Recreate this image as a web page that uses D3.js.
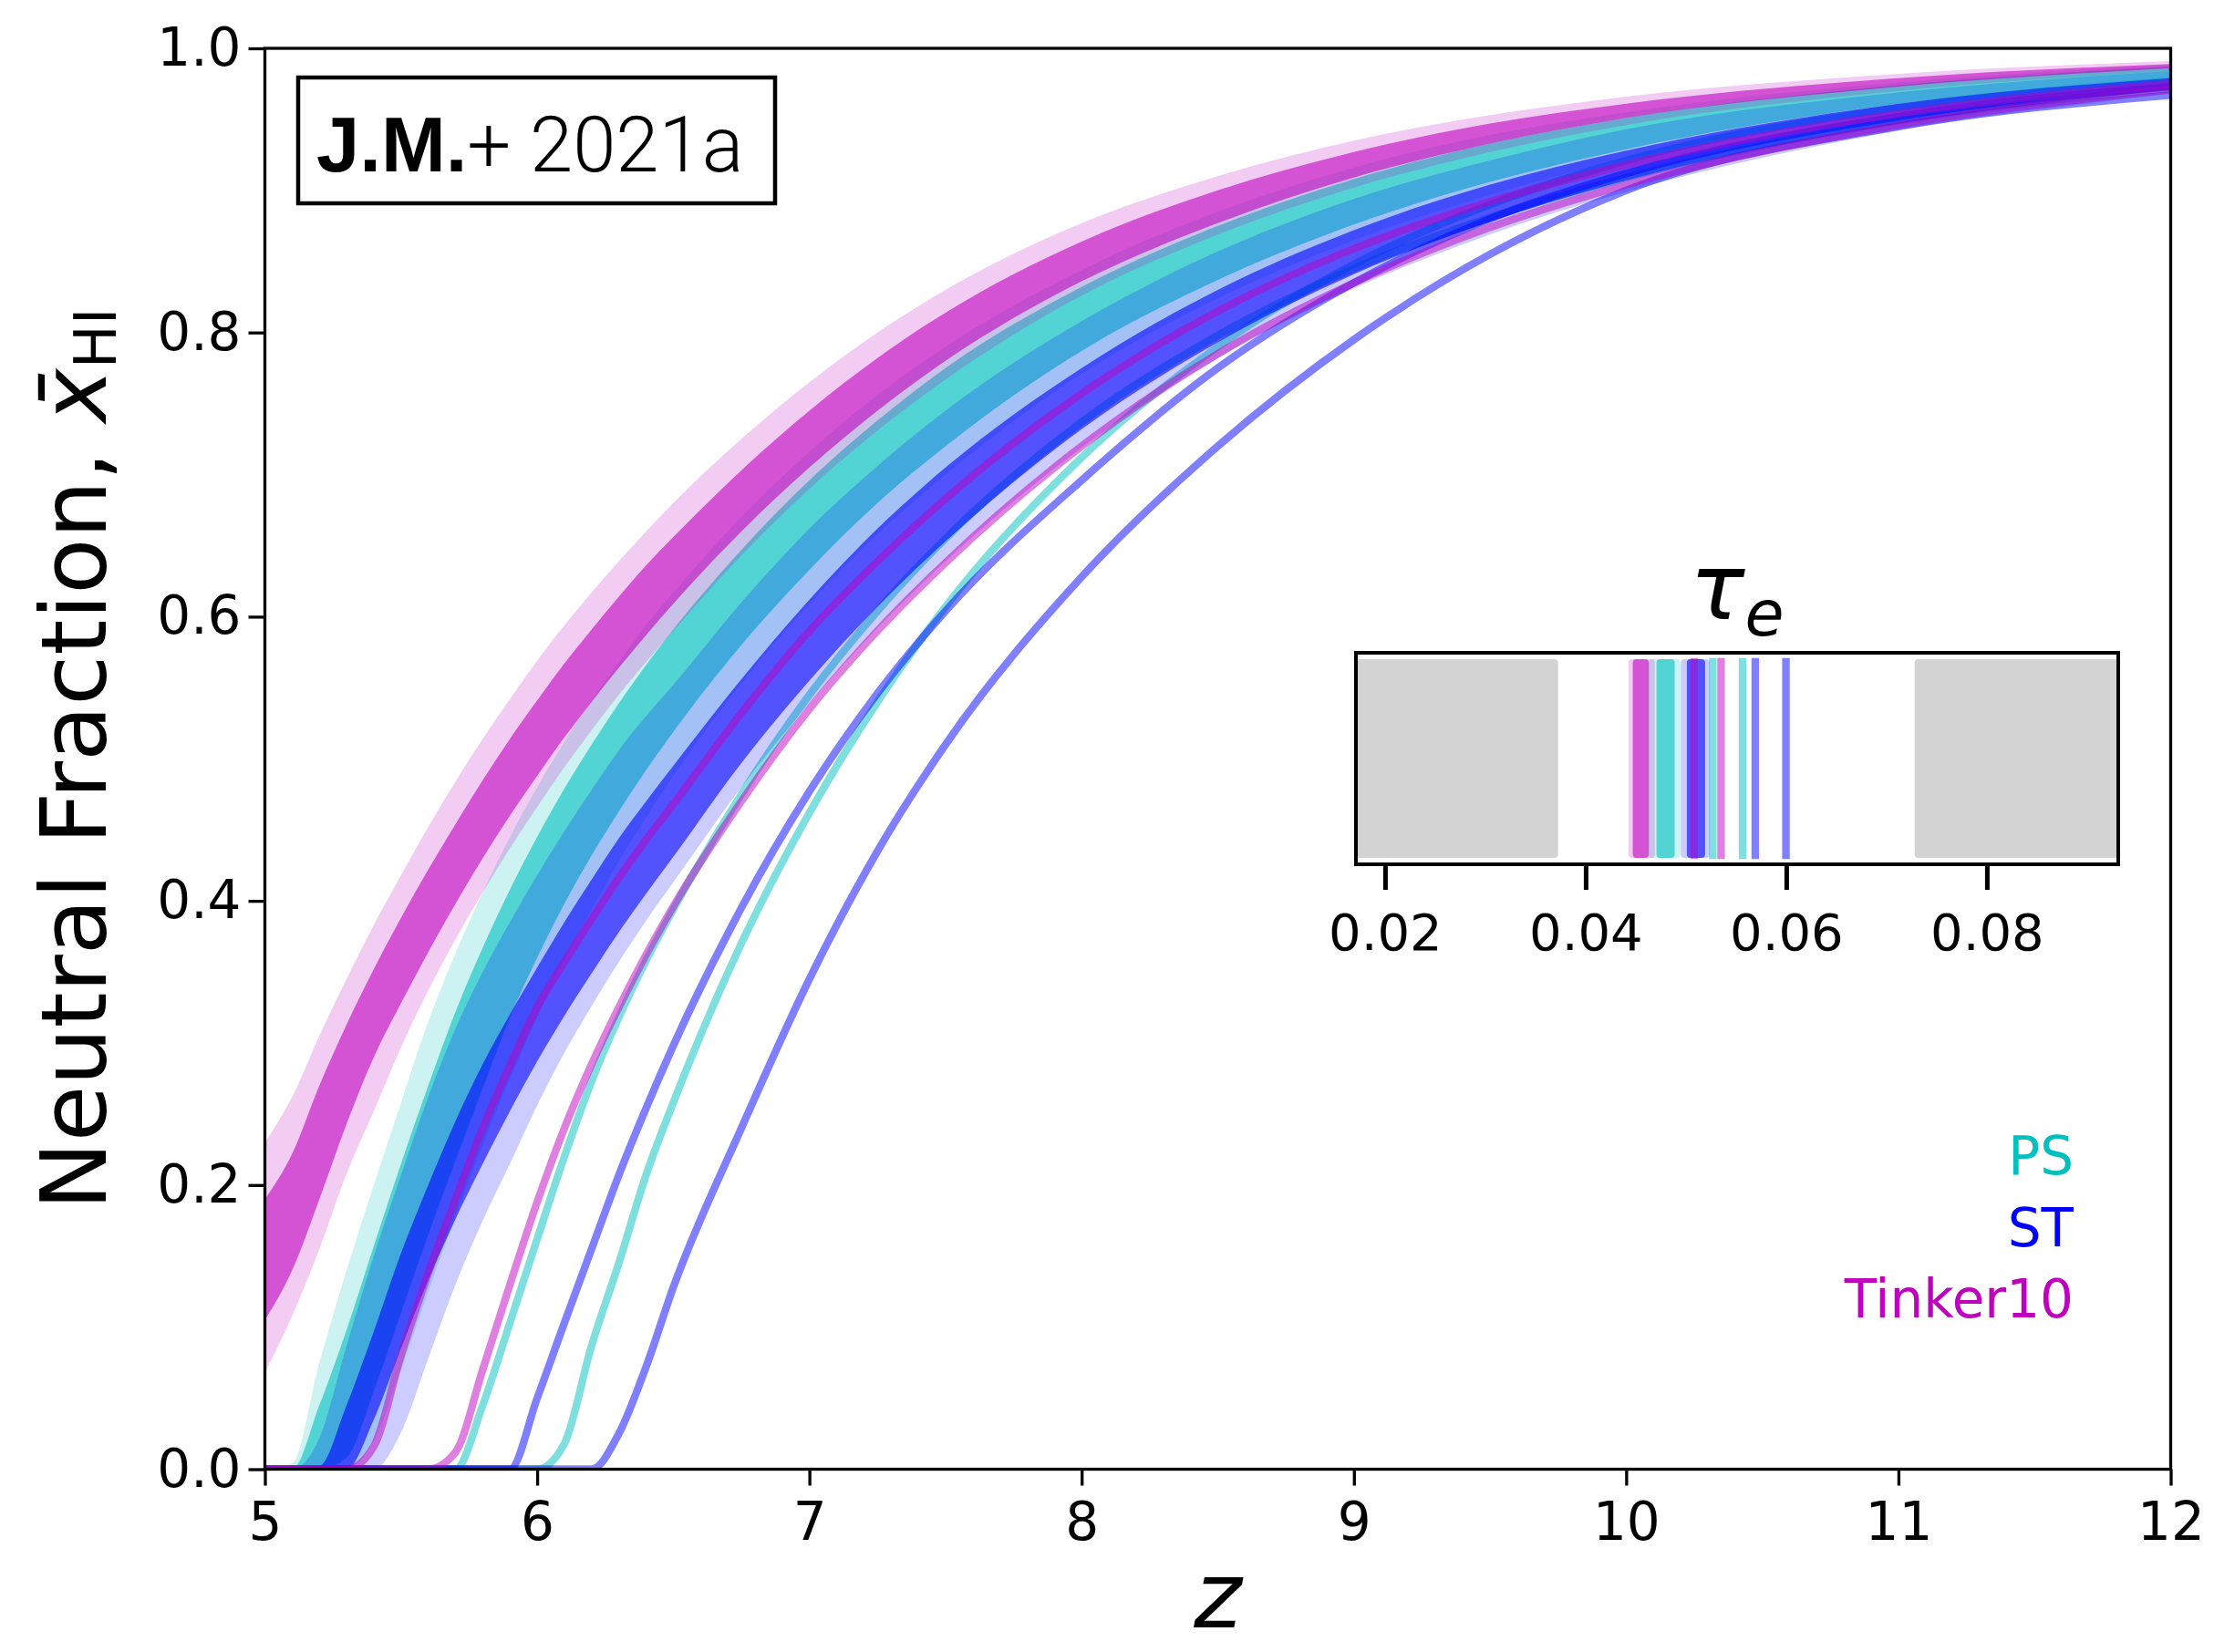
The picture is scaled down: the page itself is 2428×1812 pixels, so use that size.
<!DOCTYPE html>
<html>
<head>
<meta charset="utf-8">
<script src="https://cdnjs.cloudflare.com/ajax/libs/d3/7.8.5/d3.min.js"></script>
<style>
  body { margin: 0; background: #fff; }
  text { font-family: "DejaVu Sans", sans-serif; }
</style>
</head>
<body>
<div id="chart"></div>
<script>
// redshift grid shared by every curve
var zGrid = [5.0,5.1,5.2,5.3,5.4,5.5,5.6,5.7,5.8,5.9,6.0,6.1,6.2,6.3,6.4,6.5,6.75,7.0,7.25,7.5,8.0,8.5,9.0,9.5,10,11,12];

// PS (Press-Schechter) bands and models
var psOuterLo = [0,0,0,0,0.02,0.07,0.125,0.178,0.228,0.275,0.318,0.358,0.394,0.428,0.459,0.488,0.553,0.609,0.658,0.7,0.771,0.824,0.865,0.897,0.922,0.956,0.976];
var psOuterHi = [0,0.004,0.075,0.14,0.2,0.258,0.315,0.363,0.406,0.445,0.48,0.512,0.541,0.568,0.594,0.617,0.67,0.716,0.756,0.79,0.844,0.885,0.916,0.939,0.955,0.976,0.988];
var psInnerLo = [0,0,0,0.008,0.055,0.11,0.165,0.217,0.268,0.318,0.36,0.398,0.432,0.463,0.492,0.519,0.58,0.633,0.68,0.72,0.787,0.837,0.876,0.906,0.929,0.961,0.979];
var psInnerHi = [0,0,0.045,0.098,0.157,0.215,0.27,0.322,0.367,0.408,0.445,0.479,0.51,0.539,0.566,0.591,0.647,0.696,0.738,0.775,0.832,0.875,0.908,0.933,0.951,0.974,0.987];
var psLineA = [0,0,0,0,0,0,0,0,0.045,0.103,0.162,0.22,0.273,0.318,0.358,0.394,0.475,0.545,0.604,0.655,0.737,0.798,0.845,0.881,0.909,0.949,0.972];
var psLineB = [0,0,0,0,0,0,0,0,0,0,0,0.018,0.087,0.145,0.207,0.258,0.37,0.462,0.54,0.607,0.712,0.79,0.848,0.89,0.921,0.958,0.977];

// ST (Sheth-Tormen)
var stOuterLo = [0,0,0,0,0,0.026,0.078,0.13,0.175,0.215,0.256,0.293,0.326,0.357,0.386,0.413,0.48,0.539,0.592,0.639,0.719,0.782,0.831,0.869,0.899,0.942,0.968];
var stOuterHi = [0,0,0.022,0.087,0.15,0.207,0.262,0.31,0.35,0.385,0.418,0.449,0.478,0.506,0.53,0.552,0.61,0.662,0.706,0.745,0.808,0.857,0.894,0.921,0.943,0.969,0.984];
var stInnerLo = [0,0,0,0,0.035,0.085,0.133,0.176,0.215,0.252,0.287,0.319,0.349,0.378,0.405,0.431,0.497,0.555,0.607,0.653,0.732,0.793,0.841,0.878,0.907,0.947,0.971];
var stInnerHi = [0,0,0.002,0.045,0.097,0.152,0.2,0.245,0.285,0.32,0.353,0.385,0.415,0.444,0.47,0.495,0.556,0.612,0.662,0.705,0.775,0.83,0.872,0.904,0.928,0.961,0.979];
var stLineA = [0,0,0,0,0,0,0,0,0,0,0.05,0.103,0.155,0.207,0.254,0.298,0.395,0.477,0.546,0.604,0.696,0.775,0.835,0.88,0.912,0.952,0.973];
var stLineB = [0,0,0,0,0,0,0,0,0,0,0,0,0,0.025,0.072,0.128,0.24,0.345,0.435,0.51,0.628,0.72,0.795,0.855,0.9,0.945,0.967];

// Tinker10
var tkOuterLo = [0.068,0.108,0.155,0.208,0.252,0.297,0.337,0.373,0.406,0.437,0.466,0.494,0.52,0.545,0.568,0.59,0.643,0.69,0.731,0.767,0.826,0.869,0.902,0.927,0.946,0.97,0.984];
var tkOuterHi = [0.23,0.262,0.305,0.345,0.383,0.418,0.452,0.484,0.514,0.542,0.569,0.594,0.617,0.639,0.66,0.68,0.725,0.765,0.8,0.83,0.877,0.91,0.935,0.953,0.966,0.982,0.991];
var tkInnerLo = [0.105,0.14,0.19,0.243,0.29,0.328,0.364,0.398,0.43,0.46,0.488,0.515,0.54,0.564,0.587,0.609,0.66,0.705,0.745,0.78,0.836,0.877,0.909,0.933,0.951,0.973,0.986];
var tkInnerHi = [0.19,0.222,0.27,0.313,0.352,0.388,0.422,0.454,0.485,0.514,0.541,0.567,0.591,0.614,0.636,0.656,0.703,0.745,0.782,0.814,0.864,0.9,0.927,0.947,0.961,0.979,0.989];
var tkLineA = [0,0,0,0,0.016,0.08,0.138,0.19,0.24,0.284,0.325,0.357,0.387,0.416,0.443,0.468,0.532,0.59,0.639,0.683,0.757,0.815,0.859,0.892,0.918,0.954,0.975];
var tkLineB = [0,0,0,0,0,0,0,0.012,0.07,0.13,0.188,0.24,0.285,0.325,0.362,0.396,0.47,0.535,0.59,0.638,0.72,0.785,0.835,0.874,0.904,0.946,0.971];

// optical depth tau_e (inset): [lo, hi] of bands, single model values
var psTauOuter = [0.04627, 0.04945], psTauInner = [0.04706, 0.04888], psTauLines = [0.05268, 0.05564];
var stTauOuter = [0.04948, 0.05236], stTauInner = [0.05009, 0.05191], stTauLines = [0.05691, 0.05997];
var tkTauOuter = [0.04427, 0.0469],  tkTauInner = [0.0447, 0.0463],   tkTauLines = [0.05082, 0.0535];
var tauExcluded = [[0.0171, 0.03725], [0.0728, 0.0931]];
var tauTicks = [0.02, 0.04, 0.06, 0.08];

var modelNames = ["PS", "ST", "Tinker10"];
var modelColors = ["#00bfbf", "#0000ff", "#bf00bf"];

// set the dimensions and margins of the graph
var W = 2428, H = 1812;
var margin = {top: 53, right: 47.5, bottom: 200.5, left: 290.5},
    width = W - margin.left - margin.right,
    height = H - margin.top - margin.bottom;

var svg = d3.select("#chart")
    .append("svg")
    .attr("width", W)
    .attr("height", H)
    .style("background", "#fff");

svg.append("rect").attr("width", W).attr("height", H).attr("fill", "#fff");

var g = svg.append("g")
    .attr("transform", "translate(" + margin.left + "," + margin.top + ")");

var x = d3.scaleLinear().domain([5, 12]).range([0, width]);
var y = d3.scaleLinear().domain([0, 1]).range([height, 0]);

g.append("clipPath").attr("id", "plotclip")
  .append("rect").attr("width", width).attr("height", height);
var plot = g.append("g").attr("clip-path", "url(#plotclip)");

var area = d3.area()
    .x(function(d, i) { return x(zGrid[i]); })
    .y0(function(d) { return y(d[0]); })
    .y1(function(d) { return y(d[1]); })
    .curve(d3.curveMonotoneX);
var line = d3.line()
    .x(function(d, i) { return x(zGrid[i]); })
    .y(function(d) { return y(d); })
    .curve(d3.curveMonotoneX);

var groups = [
  {outer: [psOuterLo, psOuterHi], inner: [psInnerLo, psInnerHi], lines: [psLineA, psLineB],
   tOuter: psTauOuter, tInner: psTauInner, tLines: psTauLines},
  {outer: [stOuterLo, stOuterHi], inner: [stInnerLo, stInnerHi], lines: [stLineA, stLineB],
   tOuter: stTauOuter, tInner: stTauInner, tLines: stTauLines},
  {outer: [tkOuterLo, tkOuterHi], inner: [tkInnerLo, tkInnerHi], lines: [tkLineA, tkLineB],
   tOuter: tkTauOuter, tInner: tkTauInner, tLines: tkTauLines}
];

groups.forEach(function(gr, k) {
  var col = modelColors[k];
  plot.append("path").datum(d3.zip(gr.outer[0], gr.outer[1]))
      .attr("d", area).attr("fill", col).attr("fill-opacity", 0.2);
  plot.append("path").datum(d3.zip(gr.inner[0], gr.inner[1]))
      .attr("d", area).attr("fill", col).attr("fill-opacity", 0.6);
  gr.lines.forEach(function(l) {
    plot.append("path").datum(l).attr("d", line)
        .attr("fill", "none").attr("stroke", col)
        .attr("stroke-opacity", 0.5).attr("stroke-width", 8.3);
  });
});

// axes
var xAxis = g.append("g")
    .attr("transform", "translate(0," + height + ")")
    .call(d3.axisBottom(x).tickValues([5,6,7,8,9,10,11,12]).tickFormat(d3.format("d"))
          .tickSize(18).tickPadding(18).tickSizeOuter(0));
var yAxis = g.append("g")
    .call(d3.axisLeft(y).tickValues([0,0.2,0.4,0.6,0.8,1.0]).tickFormat(d3.format(".1f"))
          .tickSize(18).tickPadding(8).tickSizeOuter(0));
[xAxis, yAxis].forEach(function(a) {
  a.select(".domain").remove();
  a.attr("font-size", 58).attr("font-family", "DejaVu Sans");
  a.selectAll(".tick line").attr("stroke-width", 3.3);
  a.selectAll(".tick text").attr("fill", "#000");
});

g.append("rect").attr("width", width).attr("height", height)
  .attr("fill", "none").attr("stroke", "#000").attr("stroke-width", 3.3);

// axis labels
svg.append("text")
    .attr("x", margin.left + width / 2).attr("y", 1785)
    .attr("text-anchor", "middle").attr("font-size", 100).attr("font-style", "italic")
    .text("z");

var ylab = svg.append("text")
    .attr("transform", "rotate(-90)")
    .attr("x", -(margin.top + height / 2)).attr("y", 116)
    .attr("text-anchor", "middle").attr("font-size", 100);
ylab.append("tspan").text("Neutral Fraction, ");
ylab.append("tspan").attr("font-style", "italic").text("x\u0304");
ylab.append("tspan").attr("font-size", 64).attr("dy", 11).text("HI");

// paper tag
svg.append("rect").attr("x", 327).attr("y", 85).attr("width", 523).attr("height", 138)
  .attr("fill", "#fff").attr("stroke", "#000").attr("stroke-width", 4.5);
var tag = svg.append("text").attr("x", 347).attr("y", 188).attr("font-size", 85);
tag.append("tspan").attr("font-family", "Liberation Sans, Arial, sans-serif").attr("font-weight", "bold").text("J.M.");
tag.append("tspan").attr("font-family", "Roboto, Liberation Sans, sans-serif").attr("font-weight", 300).text("+ 2021a");

// model legend
modelNames.forEach(function(n, k) {
  svg.append("text").attr("x", 2274).attr("y", 1288 + k * 78.5)
    .attr("text-anchor", "end").attr("font-size", 58).attr("fill", modelColors[k]).text(n);
});

// inset: tau_e
var inset = {left: 1487, top: 716, width: 836, height: 232};
var ig = svg.append("g").attr("transform", "translate(" + inset.left + "," + inset.top + ")");
var ix = d3.scaleLinear().domain([0.0171, 0.0931]).range([0, inset.width]);
var ih = inset.height;

ig.selectAll(".excl").data(tauExcluded).enter().append("rect")
  .attr("x", function(d) { return ix(d[0]); })
  .attr("width", function(d) { return ix(d[1]) - ix(d[0]); })
  .attr("y", 0.03 * ih).attr("height", 0.94 * ih)
  .attr("rx", 4).attr("fill", "#d3d3d3");

groups.forEach(function(gr, k) {
  var col = modelColors[k];
  [[gr.tOuter, 0.2], [gr.tInner, 0.6]].forEach(function(b) {
    ig.append("rect")
      .attr("x", ix(b[0][0])).attr("width", ix(b[0][1]) - ix(b[0][0]))
      .attr("y", 0.03 * ih).attr("height", 0.94 * ih)
      .attr("rx", 4).attr("fill", col).attr("fill-opacity", b[1]);
  });
  gr.tLines.forEach(function(t) {
    ig.append("line").attr("x1", ix(t)).attr("x2", ix(t))
      .attr("y1", 0.025 * ih).attr("y2", 0.975 * ih)
      .attr("stroke", col).attr("stroke-opacity", 0.5).attr("stroke-width", 8.3);
  });
});

var iAxis = ig.append("g").attr("transform", "translate(0," + ih + ")")
    .call(d3.axisBottom(ix).tickValues(tauTicks).tickFormat(d3.format(".2f"))
          .tickSize(28).tickPadding(26).tickSizeOuter(0));
iAxis.select(".domain").remove();
iAxis.attr("font-size", 56).attr("font-family", "DejaVu Sans");
iAxis.selectAll(".tick line").attr("stroke-width", 5);

ig.append("rect").attr("width", inset.width).attr("height", ih)
  .attr("fill", "none").attr("stroke", "#000").attr("stroke-width", 4);

var title = ig.append("text").attr("x", inset.width / 2).attr("y", -37)
    .attr("text-anchor", "middle").attr("font-size", 100).attr("font-style", "italic");
title.append("tspan").text("τ");
title.append("tspan").attr("font-size", 70).attr("dy", 18).text("e");
</script>
</body>
</html>
